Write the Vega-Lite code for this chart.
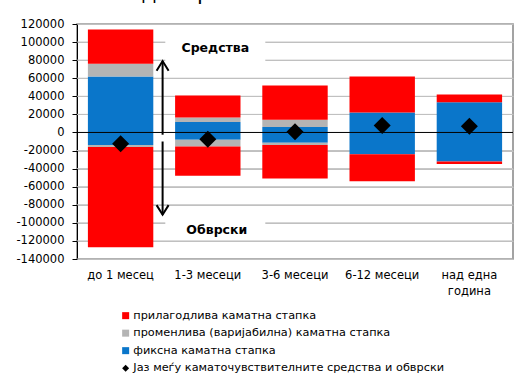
{
  "$schema": "https://vega.github.io/schema/vega-lite/v6.json",
  "width": 436,
  "height": 235,
  "autosize": {"type": "none"},
  "padding": {"left": 77, "top": 24, "right": 9, "bottom": 115},
  "config": {
    "font": "DejaVu Sans",
    "view": {"stroke": "#858585", "strokeWidth": 1.5},
    "axisY": {
      "grid": true, "gridColor": "#C0C0C0", "gridWidth": 1,
      "domainColor": "#000000", "tickColor": "#000000", "tickSize": 5,
      "labelFontSize": 11.5, "labelColor": "#000000", "labelPadding": 8,
      "labelOverlap": false, "title": null
    },
    "axisX": {
      "grid": false, "domain": false, "ticks": false, "labelAngle": 0,
      "labelFontSize": 11.5, "labelColor": "#000000", "labelPadding": 10, "labelLineHeight": 16, "title": null
    }
  },
  "title": {
    "text": "во милиони денари",
    "anchor": "start",
    "frame": "group",
    "fontSize": 21.5,
    "fontWeight": "normal",
    "color": "#000000",
    "dx": -74,
    "dy": -14,
    "offset": 0
  },
  "datasets": {
    "grid": [
      {"g": -140000}, {"g": -120000}, {"g": -100000}, {"g": -80000}, {"g": -60000}, {"g": -40000}, {"g": -20000},
      {"g": 20000}, {"g": 40000}, {"g": 60000}, {"g": 80000}, {"g": 100000}, {"g": 120000}
    ],
    "bars": [
      {"cat": "до 1 месец", "series": "фиксна каматна стапка", "ord": 1, "value": 62000},
      {"cat": "до 1 месец", "series": "променлива (варијабилна) каматна стапка", "ord": 2, "value": 14000},
      {"cat": "до 1 месец", "series": "прилагодлива каматна стапка", "ord": 3, "value": 38000},
      {"cat": "до 1 месец", "series": "фиксна каматна стапка", "ord": 1, "value": -14000},
      {"cat": "до 1 месец", "series": "променлива (варијабилна) каматна стапка", "ord": 2, "value": -2000},
      {"cat": "до 1 месец", "series": "прилагодлива каматна стапка", "ord": 3, "value": -111000},
      {"cat": "1-3 месеци", "series": "фиксна каматна стапка", "ord": 1, "value": 11500},
      {"cat": "1-3 месеци", "series": "променлива (варијабилна) каматна стапка", "ord": 2, "value": 5000},
      {"cat": "1-3 месеци", "series": "прилагодлива каматна стапка", "ord": 3, "value": 24500},
      {"cat": "1-3 месеци", "series": "фиксна каматна стапка", "ord": 1, "value": -8000},
      {"cat": "1-3 месеци", "series": "променлива (варијабилна) каматна стапка", "ord": 2, "value": -7500},
      {"cat": "1-3 месеци", "series": "прилагодлива каматна стапка", "ord": 3, "value": -32500},
      {"cat": "3-6 месеци", "series": "фиксна каматна стапка", "ord": 1, "value": 6000},
      {"cat": "3-6 месеци", "series": "променлива (варијабилна) каматна стапка", "ord": 2, "value": 8000},
      {"cat": "3-6 месеци", "series": "прилагодлива каматна стапка", "ord": 3, "value": 38000},
      {"cat": "3-6 месеци", "series": "фиксна каматна стапка", "ord": 1, "value": -11500},
      {"cat": "3-6 месеци", "series": "променлива (варијабилна) каматна стапка", "ord": 2, "value": -2500},
      {"cat": "3-6 месеци", "series": "прилагодлива каматна стапка", "ord": 3, "value": -37000},
      {"cat": "6-12 месеци", "series": "фиксна каматна стапка", "ord": 1, "value": 22000},
      {"cat": "6-12 месеци", "series": "прилагодлива каматна стапка", "ord": 3, "value": 40000},
      {"cat": "6-12 месеци", "series": "фиксна каматна стапка", "ord": 1, "value": -24000},
      {"cat": "6-12 месеци", "series": "прилагодлива каматна стапка", "ord": 3, "value": -30000},
      {"cat": "над една година", "series": "фиксна каматна стапка", "ord": 1, "value": 33500},
      {"cat": "над една година", "series": "прилагодлива каматна стапка", "ord": 3, "value": 8500},
      {"cat": "над една година", "series": "фиксна каматна стапка", "ord": 1, "value": -32000},
      {"cat": "над една година", "series": "прилагодлива каматна стапка", "ord": 3, "value": -3000}
    ],
    "gap": [
      {"cat": "до 1 месец", "series": "Јаз меѓу каматочувствителните средства и обврски", "value": -12500},
      {"cat": "1-3 месеци", "series": "Јаз меѓу каматочувствителните средства и обврски", "value": -7500},
      {"cat": "3-6 месеци", "series": "Јаз меѓу каматочувствителните средства и обврски", "value": 800},
      {"cat": "6-12 месеци", "series": "Јаз меѓу каматочувствителните средства и обврски", "value": 7600},
      {"cat": "над една година", "series": "Јаз меѓу каматочувствителните средства и обврски", "value": 7000}
    ]
  },
  "layer": [
    {
      "data": {"name": "grid"},
      "mark": {"type": "rule", "color": "#C0C0C0", "strokeWidth": 1},
      "encoding": {
        "y": {"field": "g", "type": "quantitative", "scale": {"domain": [-140000, 120000], "nice": false, "zero": false}, "axis": {"values": [-140000, -120000, -100000, -80000, -60000, -40000, -20000, 0, 20000, 40000, 60000, 80000, 100000, 120000], "grid": true, "labelOverlap": false, "labelExpr": "datum.value + ''"}}
      }
    },
    {
      "data": {"name": "bars"},
      "mark": {"type": "bar"},
      "encoding": {
        "x": {
          "field": "cat", "type": "nominal",
          "sort": ["до 1 месец", "1-3 месеци", "3-6 месеци", "6-12 месеци", "над една година"],
          "scale": {"domain": ["до 1 месец", "1-3 месеци", "3-6 месеци", "6-12 месеци", "над една година"], "paddingInner": 0.25, "paddingOuter": 0.125},
          "axis": {
            "labelExpr": "datum.value == 'над една година' ? ['над една', 'година'] : datum.label"
          }
        },
        "y": {
          "field": "value", "type": "quantitative", "stack": "zero",
          "axis": {"values": [-140000, -120000, -100000, -80000, -60000, -40000, -20000, 0, 20000, 40000, 60000, 80000, 100000, 120000], "grid": true, "labelOverlap": false, "labelExpr": "datum.value + ''"}
        },
        "color": {
          "field": "series", "type": "nominal",
          "scale": {
            "domain": ["прилагодлива каматна стапка", "променлива (варијабилна) каматна стапка", "фиксна каматна стапка", "Јаз меѓу каматочувствителните средства и обврски"],
            "range": ["#FF0000", "#B4B4B4", "#0A76CA", "#000000"]
          },
          "legend": {
            "title": null, "orient": "none", "legendX": 43, "legendY": 286,
            "labelFontSize": 11.3, "labelColor": "#000000", "symbolSize": 49,
            "rowPadding": 5.5, "labelOffset": 2, "padding": 0, "labelLimit": 500, "symbolStrokeWidth": 0
          }
        },
        "order": {"field": "ord", "type": "quantitative"}
      }
    },
    {
      "data": {"values": [{}]},
      "mark": {"type": "bar", "color": "#FFFFFF", "width": 100, "xOffset": 7.5},
      "encoding": {
        "x": {"datum": "1-3 месеци", "type": "nominal"},
        "y": {"datum": 77000, "type": "quantitative", "axis": {"values": [-140000, -120000, -100000, -80000, -60000, -40000, -20000, 0, 20000, 40000, 60000, 80000, 100000, 120000], "grid": true, "labelOverlap": false, "labelExpr": "datum.value + ''"}},
        "y2": {"datum": 103000}
      }
    },
    {
      "data": {"values": [{}]},
      "mark": {"type": "bar", "color": "#FFFFFF", "width": 100, "xOffset": 7.5},
      "encoding": {
        "x": {"datum": "1-3 месеци", "type": "nominal"},
        "y": {"datum": -86000, "type": "quantitative", "axis": {"values": [-140000, -120000, -100000, -80000, -60000, -40000, -20000, 0, 20000, 40000, 60000, 80000, 100000, 120000], "grid": true, "labelOverlap": false, "labelExpr": "datum.value + ''"}},
        "y2": {"datum": -116000}
      }
    },
    {
      "data": {"values": [{}]},
      "mark": {"type": "rule", "color": "#000000", "strokeWidth": 1},
      "encoding": {"y": {"datum": 0, "type": "quantitative", "axis": {"values": [-140000, -120000, -100000, -80000, -60000, -40000, -20000, 0, 20000, 40000, 60000, 80000, 100000, 120000], "grid": true, "labelOverlap": false, "labelExpr": "datum.value + ''"}}}
    },
    {
      "data": {"values": [{}]},
      "mark": {"type": "rule", "color": "#000000", "strokeWidth": 2, "xOffset": 42},
      "encoding": {
        "x": {"datum": "до 1 месец", "type": "nominal"},
        "y": {"datum": 79000, "type": "quantitative", "axis": {"values": [-140000, -120000, -100000, -80000, -60000, -40000, -20000, 0, 20000, 40000, 60000, 80000, 100000, 120000], "grid": true, "labelOverlap": false, "labelExpr": "datum.value + ''"}},
        "y2": {"datum": -2500}
      }
    },
    {
      "data": {"values": [{}]},
      "mark": {"type": "rule", "color": "#000000", "strokeWidth": 2, "xOffset": 42},
      "encoding": {
        "x": {"datum": "до 1 месец", "type": "nominal"},
        "y": {"datum": -10000, "type": "quantitative", "axis": {"values": [-140000, -120000, -100000, -80000, -60000, -40000, -20000, 0, 20000, 40000, 60000, 80000, 100000, 120000], "grid": true, "labelOverlap": false, "labelExpr": "datum.value + ''"}},
        "y2": {"datum": -91000}
      }
    },
    {
      "data": {"values": [{}]},
      "mark": {"type": "point", "shape": "M-1,1.6L0,0L1,1.6", "filled": false, "stroke": "#000000", "strokeWidth": 2, "size": 144, "opacity": 1, "xOffset": 42},
      "encoding": {
        "x": {"datum": "до 1 месец", "type": "nominal"},
        "y": {"datum": 79000, "type": "quantitative", "axis": {"values": [-140000, -120000, -100000, -80000, -60000, -40000, -20000, 0, 20000, 40000, 60000, 80000, 100000, 120000], "grid": true, "labelOverlap": false, "labelExpr": "datum.value + ''"}}
      }
    },
    {
      "data": {"values": [{}]},
      "mark": {"type": "point", "shape": "M-1,-1.6L0,0L1,-1.6", "filled": false, "stroke": "#000000", "strokeWidth": 2, "size": 144, "opacity": 1, "xOffset": 42},
      "encoding": {
        "x": {"datum": "до 1 месец", "type": "nominal"},
        "y": {"datum": -91000, "type": "quantitative", "axis": {"values": [-140000, -120000, -100000, -80000, -60000, -40000, -20000, 0, 20000, 40000, 60000, 80000, 100000, 120000], "grid": true, "labelOverlap": false, "labelExpr": "datum.value + ''"}}
      }
    },
    {
      "data": {"values": [{}]},
      "mark": {"type": "text", "fontSize": 12.5, "fontWeight": "bold", "color": "#000000", "xOffset": 7.5, "baseline": "middle", "align": "center"},
      "encoding": {
        "x": {"datum": "1-3 месеци", "type": "nominal"},
        "y": {"datum": 94000, "type": "quantitative", "axis": {"values": [-140000, -120000, -100000, -80000, -60000, -40000, -20000, 0, 20000, 40000, 60000, 80000, 100000, 120000], "grid": true, "labelOverlap": false, "labelExpr": "datum.value + ''"}},
        "text": {"datum": "Средства"}
      }
    },
    {
      "data": {"values": [{}]},
      "mark": {"type": "text", "fontSize": 12.5, "fontWeight": "bold", "color": "#000000", "xOffset": 9, "baseline": "middle", "align": "center"},
      "encoding": {
        "x": {"datum": "1-3 месеци", "type": "nominal"},
        "y": {"datum": -108000, "type": "quantitative", "axis": {"values": [-140000, -120000, -100000, -80000, -60000, -40000, -20000, 0, 20000, 40000, 60000, 80000, 100000, 120000], "grid": true, "labelOverlap": false, "labelExpr": "datum.value + ''"}},
        "text": {"datum": "Обврски"}
      }
    },
    {
      "data": {"name": "gap"},
      "mark": {"type": "point", "filled": true, "size": 289, "opacity": 1, "strokeWidth": 0},
      "encoding": {
        "x": {"field": "cat", "type": "nominal"},
        "y": {"field": "value", "type": "quantitative", "axis": {"values": [-140000, -120000, -100000, -80000, -60000, -40000, -20000, 0, 20000, 40000, 60000, 80000, 100000, 120000], "grid": true, "labelOverlap": false, "labelExpr": "datum.value + ''"}},
        "color": {"field": "series", "type": "nominal"},
        "shape": {
          "field": "series", "type": "nominal",
          "scale": {
            "domain": ["прилагодлива каматна стапка", "променлива (варијабилна) каматна стапка", "фиксна каматна стапка", "Јаз меѓу каматочувствителните средства и обврски"],
            "range": ["square", "square", "square", "diamond"]
          },
          "legend": {
            "title": null, "orient": "none", "legendX": 43, "legendY": 286,
            "labelFontSize": 11.3, "labelColor": "#000000", "symbolSize": 49,
            "rowPadding": 5.5, "labelOffset": 2, "padding": 0, "labelLimit": 500, "symbolStrokeWidth": 0
          }
        }
      }
    }
  ]
}
